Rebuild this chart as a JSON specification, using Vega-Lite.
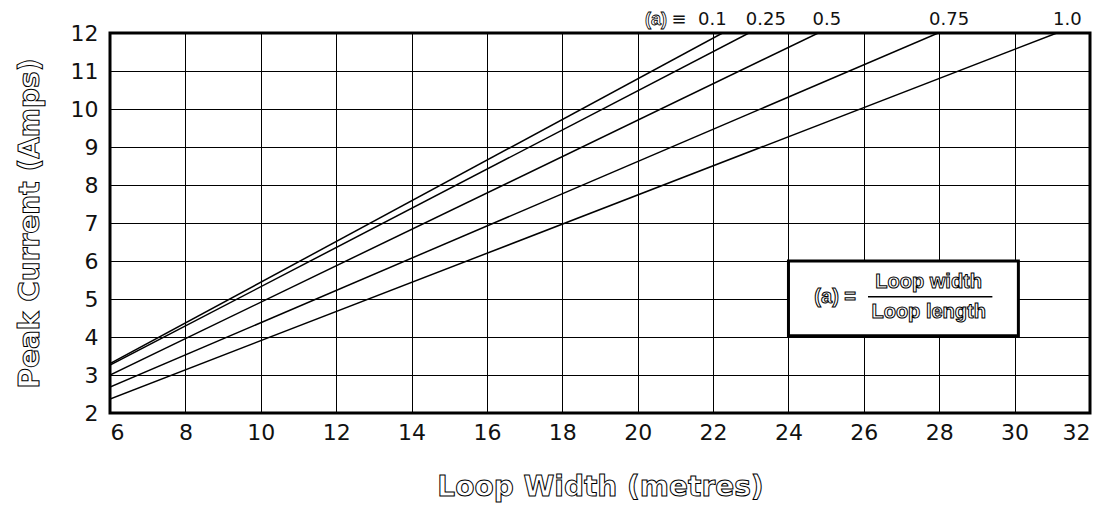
{
  "$schema": "https://vega.github.io/schema/vega-lite/v6.json",
  "autosize": "none",
  "width": 980,
  "height": 380,
  "padding": {"left": 110, "top": 33, "right": 25, "bottom": 96},
  "background": "white",
  "config": {
    "view": {"stroke": "black", "strokeWidth": 3},
    "font": "DejaVu Sans",
    "style": {
      "guide-title": {"fill": "white", "stroke": "black", "strokeWidth": 1}
    },
    "axis": {
      "grid": true, "gridColor": "black", "gridWidth": 1, "gridOpacity": 1,
      "domain": false, "ticks": false,
      "labelFontSize": 22, "labelColor": "#111", "labelFont": "DejaVu Sans",
      "labelOverlap": false,
      "titleFontSize": 28, "titleFontWeight": "bold", "titleFont": "DejaVu Sans"
    },
    "axisX": {"labelPadding": 9, "titleY": 74, "titleBaseline": "middle"},
    "axisY": {"labelPadding": 12, "titleX": -80, "titleY": 190, "titleBaseline": "middle", "titleAngle": -90}
  },
  "encoding": {
    "x": {
      "field": "w", "type": "quantitative",
      "scale": {"domain": [6, 32], "nice": false, "zero": false},
      "axis": {
        "values": [6, 8, 10, 12, 14, 16, 18, 20, 22, 24, 26, 28, 30, 32],
        "labelFontSize": 22,
        "title": "Loop Width (metres)",
        "encode": {"title": {"update": {"fill": {"value": "white"}, "stroke": {"value": "black"}, "strokeWidth": {"value": 1}}}}
      }
    },
    "y": {
      "field": "i", "type": "quantitative",
      "scale": {"domain": [2, 12], "nice": false, "zero": false},
      "axis": {
        "values": [2, 3, 4, 5, 6, 7, 8, 9, 10, 11, 12],
        "labelFontSize": 22,
        "title": "Peak Current (Amps)",
        "encode": {"title": {"update": {"fill": {"value": "white"}, "stroke": {"value": "black"}, "strokeWidth": {"value": 1}}}}
      }
    }
  },
  "layer": [
    {
      "data": {"values": [
        {"a": "0.1", "w": 6, "i": 3.3},
        {"a": "0.1", "w": 22.25, "i": 12},
        {"a": "0.25", "w": 6, "i": 3.26},
        {"a": "0.25", "w": 22.95, "i": 12},
        {"a": "0.5", "w": 6, "i": 3.0},
        {"a": "0.5", "w": 24.79, "i": 12},
        {"a": "0.75", "w": 6, "i": 2.68},
        {"a": "0.75", "w": 27.97, "i": 12},
        {"a": "1.0", "w": 6, "i": 2.37},
        {"a": "1.0", "w": 31.12, "i": 12}
      ]},
      "mark": {"type": "line", "color": "black", "strokeWidth": 1.5, "clip": true},
      "encoding": {"detail": {"field": "a"}}
    },
    {
      "data": {"values": [{"w": 24, "w2": 30.1, "i": 4.03, "i2": 6}]},
      "mark": {"type": "rect", "fill": "white", "stroke": "black", "strokeWidth": 3},
      "encoding": {"x2": {"field": "w2"}, "y2": {"field": "i2"}}
    },
    {
      "data": {"values": [{"w": 26.11, "w2": 29.41, "i": 5.06}]},
      "mark": {"type": "rule", "color": "black", "strokeWidth": 1.5},
      "encoding": {"x2": {"field": "w2"}}
    },
    {
      "data": {"values": [
        {"t": "(a) =", "w": 25.24, "i": 5.06},
        {"t": "Loop width", "w": 27.72, "i": 5.45},
        {"t": "Loop length", "w": 27.72, "i": 4.66}
      ]},
      "mark": {"type": "text", "fill": "white", "stroke": "black", "strokeWidth": 1, "fontSize": 20, "fontWeight": "bold", "font": "Liberation Sans", "align": "center", "baseline": "middle"},
      "encoding": {"text": {"field": "t"}}
    },
    {
      "data": {"values": [{"t": "(a)", "w": 20.78, "i": 12.33}]},
      "mark": {"type": "text", "fill": "white", "stroke": "black", "strokeWidth": 0.8, "fontSize": 18, "fontWeight": "bold", "font": "Liberation Sans", "align": "right", "baseline": "middle", "clip": false},
      "encoding": {"text": {"field": "t"}}
    },
    {
      "data": {"values": [
        {"t": "≡", "w": 21.1, "i": 12.33},
        {"t": "0.1", "w": 21.98, "i": 12.33},
        {"t": "0.25", "w": 23.4, "i": 12.33},
        {"t": "0.5", "w": 25.02, "i": 12.33},
        {"t": "0.75", "w": 28.26, "i": 12.33},
        {"t": "1.0", "w": 31.4, "i": 12.33}
      ]},
      "mark": {"type": "text", "color": "#111", "fontSize": 18, "font": "DejaVu Sans", "align": "center", "baseline": "middle", "clip": false},
      "encoding": {"text": {"field": "t"}}
    }
  ]
}
